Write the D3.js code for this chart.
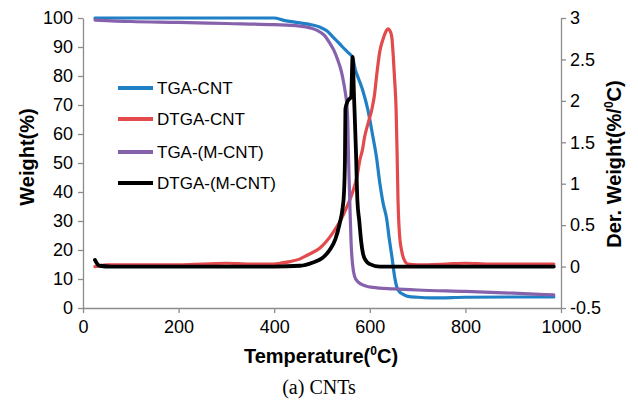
<!DOCTYPE html>
<html><head><meta charset="utf-8">
<script src="https://cdn.jsdelivr.net/npm/d3@7"></script>
<style>
body{margin:0;background:#fff;}
svg text{font-family:"Liberation Sans",Arial,sans-serif;}
</style></head>
<body>
<svg id="c" width="638" height="405"></svg>
<script>
// ---- data ----
const xTicks = [0,200,400,600,800,1000];
const yLeftTicks = [0,10,20,30,40,50,60,70,80,90,100];
const yRightTicks = [-0.5,0,0.5,1,1.5,2,2.5,3];
const seriesNames = ["TGA-CNT","DTGA-CNT","TGA-(M-CNT)","DTGA-(M-CNT)"];

// TGA-CNT (weight %, left axis)
const tgaCNT = [[25,100],[100,100],[200,100],[300,100],[400,100],[420,99.2],[450,98.4],[480,97.6],[495,96.9],[510,95.6],[522,93.6],[533,91.8],[543,90],[554,88.2],[564,86.3],[570,82],[575,79.7],[585,75.2],[596,68.3],[606,59.5],[614,52],[621,43],[628,36],[635,31],[641,23.5],[646,18],[652,10.7],[656,7.5],[662,5.6],[669,4.8],[680,4.0],[700,3.7],[730,3.5],[800,3.7],[900,3.8],[985,3.8]];
// DTGA-CNT (%/°C, right axis)
const dtgaCNT = [[25,0.0],[50,0.02],[100,0.02],[200,0.02],[300,0.04],[350,0.03],[400,0.03],[412,0.04],[433,0.06],[453,0.09],[470,0.14],[495,0.22],[522,0.4],[540,0.57],[552,0.72],[563,0.88],[573,1.08],[579,1.28],[585,1.42],[589,1.56],[596,1.72],[604,1.89],[610,2.08],[614,2.29],[621,2.6],[628,2.75],[634,2.84],[638,2.87],[642,2.85],[646,2.77],[649,2.55],[652,2.25],[655,1.9],[657,1.4],[659,0.8],[662,0.4],[667,0.18],[672,0.08],[680,0.03],[700,0.02],[760,0.03],[800,0.04],[850,0.03],[900,0.03],[985,0.03]];
// TGA-(M-CNT) (weight %, left axis)
const tgaMCNT = [[25,99.3],[100,98.8],[200,98.5],[300,98.1],[400,97.7],[453,97.2],[475,96.6],[489,95.8],[505,94],[516,91.4],[526,88.5],[533,85.5],[539,82.5],[543,79.7],[549,74],[552,70],[554,64],[555,55],[557,43],[559,32],[561,22],[564,15],[568,11],[575,9],[590,7.7],[606,7.1],[650,6.6],[700,6.2],[800,5.7],[900,5.1],[985,4.5]];
// DTGA-(M-CNT) (%/°C, right axis)
const dtgaMCNT = [[25,0.08],[29,0.04],[34,0.01],[60,0],[200,0],[400,0],[454,0.01],[481,0.05],[500,0.1],[516,0.2],[528,0.33],[537,0.52],[543,0.7],[546,0.89],[548,1.29],[549,1.9],[554,2.0],[561,2.05],[564,2.53],[567,2.05],[571,1.4],[574,0.8],[578,0.55],[582,0.3],[586,0.15],[592,0.07],[600,0.03],[621,0],[700,0],[800,0],[900,0],[985,0]];

const colors = ["#1f80c6","#e24a4b","#8662ad","#000000"];

// ---- chart ----
const svg = d3.select("#c");
const x = d3.scaleLinear().domain([0,1000]).range([83,561]);
const yL = d3.scaleLinear().domain([0,100]).range([308,18]);
const yR = d3.scaleLinear().domain([-0.5,3]).range([308,18]);
const axisColor = "#8c8c8c";
const fs = 18;

function style(g){
  g.selectAll("path,line").attr("stroke",axisColor).attr("stroke-width",1.3);
  g.selectAll("text").attr("fill","#000").style("font-size",fs+"px");
}

const gx = svg.append("g").attr("transform","translate(0,308)")
  .call(d3.axisBottom(x).tickValues(xTicks).tickSize(5).tickSizeOuter(0).tickPadding(7).tickFormat(d3.format("d")));
style(gx);
const gl = svg.append("g").attr("transform","translate(83,0)")
  .call(d3.axisLeft(yL).tickValues(yLeftTicks).tickSize(5).tickSizeOuter(0).tickPadding(5).tickFormat(d3.format("d")));
style(gl);
const gr = svg.append("g").attr("transform","translate(561,0)")
  .call(d3.axisRight(yR).tickValues(yRightTicks).tickSize(5).tickSizeOuter(0).tickPadding(4).tickFormat(d=>String(d)));
style(gr);

const lineL = d3.line().x(d=>x(d[0])).y(d=>yL(d[1])).curve(d3.curveMonotoneX);
const lineR = d3.line().x(d=>x(d[0])).y(d=>yR(d[1])).curve(d3.curveMonotoneX);

const series = [
  {data:tgaCNT, line:lineL, w:3.2},
  {data:dtgaCNT, line:lineR, w:3.2},
  {data:tgaMCNT, line:lineL, w:3.2},
  {data:dtgaMCNT, line:lineR, w:3.8}
];
series.forEach((s,i)=>{
  svg.append("path").attr("d",s.line(s.data)).attr("fill","none")
    .attr("stroke",colors[i]).attr("stroke-width",s.w)
    .attr("stroke-linejoin","round").attr("stroke-linecap","round");
});

// legend
const legY = [88,119,152,183];
seriesNames.forEach((n,i)=>{
  svg.append("line").attr("x1",118).attr("x2",153).attr("y1",legY[i]).attr("y2",legY[i])
    .attr("stroke",colors[i]).attr("stroke-width",4);
  svg.append("text").attr("x",157).attr("y",legY[i]+6).style("font-size","17px").text(n);
});

// axis titles
const xt = svg.append("text").attr("x",321).attr("y",363).attr("text-anchor","middle")
  .style("font-size","20px").style("font-weight","bold");
xt.append("tspan").text("Temperature(");
xt.append("tspan").text("0").style("font-size","12px").attr("dy",-8);
xt.append("tspan").text("C)").attr("dy",8);

svg.append("text").attr("transform","translate(34,157) rotate(-90)").attr("text-anchor","middle")
  .style("font-size","20px").style("font-weight","bold").text("Weight(%)");

const rt = svg.append("text").attr("transform","translate(621,164) rotate(-90)").attr("text-anchor","middle")
  .style("font-size","20px").style("font-weight","bold");
rt.append("tspan").text("Der. Weight(%/");
rt.append("tspan").text("0").style("font-size","12px").attr("dy",-8);
rt.append("tspan").text("C)").attr("dy",8);

svg.append("text").attr("x",319).attr("y",394).attr("text-anchor","middle")
  .style("font-family","'Liberation Serif','Times New Roman',serif").style("font-size","20px").text("(a) CNTs");
</script>
</body></html>
